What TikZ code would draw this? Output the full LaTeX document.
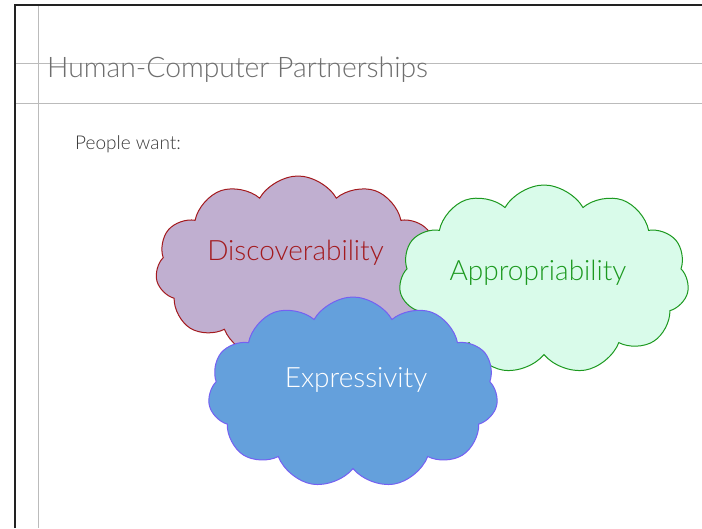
\documentclass[tikz,border=0pt]{standalone}
\usepackage{fontspec}
\setmainfont{Lato}[UprightFont={* Light}]
\usepackage{tikz}
\usetikzlibrary{shapes.symbols}
\definecolor{HCPInk}{HTML}{222222}
\definecolor{HCPRule}{HTML}{BBBBBB}
\definecolor{HCPTitle}{HTML}{6E6E6E}
\definecolor{HCPText}{HTML}{3A3A3A}
\definecolor{HCPLilac}{HTML}{C0AFD0}
\definecolor{HCPRed}{HTML}{A31A1E}
\definecolor{HCPMint}{HTML}{D9FBEA}
\definecolor{HCPGreen}{HTML}{1C991F}
\definecolor{HCPBlue}{HTML}{64A0DC}
\definecolor{HCPViolet}{HTML}{7560F2}

\begin{document}
\begin{tikzpicture}[x=1pt,y=-1pt,
      frame/.style={line width=2pt,draw=HCPInk},
      rule/.style={line width=1pt,draw=HCPRule},
      puff/.style={cloud,cloud puffs=11,cloud puff arc=120,cloud ignores aspect,
        inner sep=0pt,line width=1pt},
      word/.style={font=\fontsize{28}{30}\selectfont,anchor=base}
    ]
    \path[use as bounding box] (0,0) rectangle (702,528);
    \fill[white] (0,0) rectangle (702,528);

    \draw[rule] (14,63) -- (702,63);
    \draw[rule] (14,103) -- (702,103);
    \draw[rule] (38,5) -- (38,528);
    \draw[frame] (15,528) -- (15,5) -- (702,5);

    \node[anchor=base west,inner sep=0pt,text=HCPTitle,
      font=\fontsize{28.3}{30}\selectfont] (title) at (47,77) {Human-Computer Partnerships};
    \node[anchor=base west,inner sep=0pt,text=HCPText,
      font=\fontsize{19}{21}\selectfont] (want) at (75,149) {People want:};

    \node[puff,fill=HCPLilac,draw=HCPRed,minimum width=285pt,minimum height=184pt]
      (discovery) at (298,268) {};
    \node[word,text=HCPRed] (discoverytext) at (295.5,260) {Discoverability};

    \node[puff,fill=HCPMint,draw=HCPGreen,minimum width=290pt,minimum height=189pt]
      (appropriation) at (544,279.5) {};
    \node[word,text=HCPGreen] (appropriationtext) at (538,280) {Appropriability};

    \node[puff,fill=HCPBlue,draw=HCPViolet,minimum width=290pt,minimum height=191pt]
      (expression) at (353,392.5) {};
    \node[word,text=white] (expressiontext) at (356,387) {Expressivity};
  \end{tikzpicture}
\end{document}
